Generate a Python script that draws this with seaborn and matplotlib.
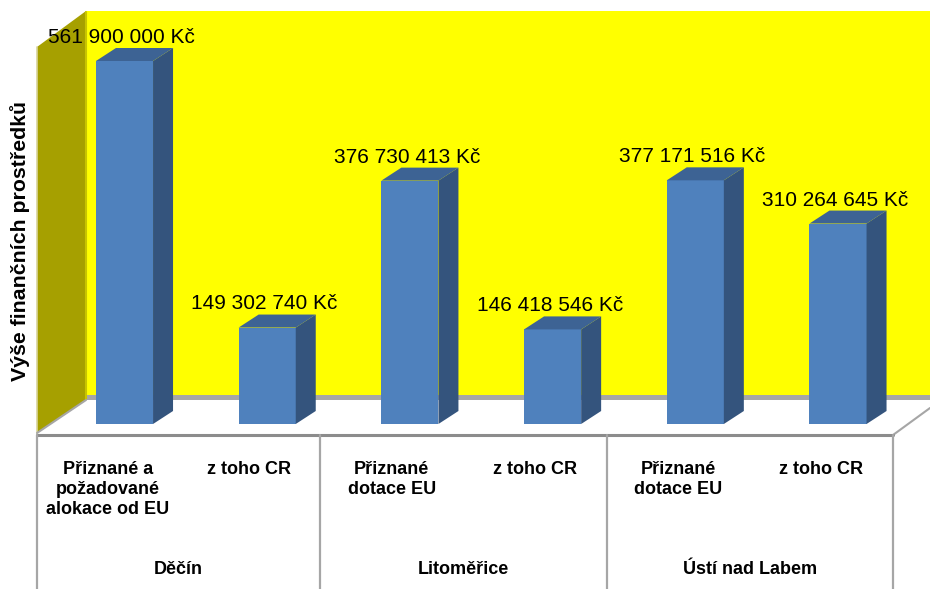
import matplotlib
matplotlib.use("Agg")
import matplotlib.pyplot as plt
import seaborn as sns
from matplotlib.patches import Polygon

# data
groups = ["Děčín", "Litoměřice", "Ústí nad Labem"]
sub_labels = ["Přiznané a\npožadované\nalokace od EU", "z toho CR",
              "Přiznané\ndotace EU", "z toho CR",
              "Přiznané\ndotace EU", "z toho CR"]
values = [561900000, 149302740, 376730413, 146418546, 377171516, 310264645]
axis_title = "Výše finančních prostředků"

sns.set_style("white")
plt.rcParams['font.family'] = ['Liberation Sans', 'DejaVu Sans']
plt.rcParams['text.color'] = 'black'

W, H = 930, 589
fig = plt.figure(figsize=(W / 100, H / 100), dpi=100)

# background: walls, floor and the category table, in pixel coordinates
bg = fig.add_axes([0, 0, 1, 1])
bg.set_xlim(0, W)
bg.set_ylim(H, 0)
bg.axis("off")

bg.add_patch(Polygon([(86, 11), (930, 11), (930, 396), (86, 396)], closed=True,
                     facecolor="#FFFF00", edgecolor="none"))
bg.add_patch(Polygon([(86, 395), (930, 395), (930, 400), (86, 400)], closed=True,
                     facecolor="#A6A6A6", edgecolor="none"))
bg.add_patch(Polygon([(37, 47), (86, 11), (86, 400), (37, 433)], closed=True,
                     facecolor="#A6A000", edgecolor="none"))
bg.plot([37, 37], [47, 433], color="#D8D49A", lw=1.2)
bg.plot([85.5, 85.5], [12, 399], color="#C8C400", lw=1.5)
bg.plot([37, 86], [433, 400], color="#A6A6A6", lw=1.5)
bg.plot([893, 930], [435, 408], color="#A6A6A6", lw=1.5)

# table
cols = [37, 320, 607, 893]
bg.plot([37, 893], [435, 435], color="#8C8C8C", lw=2.2)
for c in cols:
    bg.plot([c, c], [435, H], color="#A6A6A6", lw=1.6)

for g in range(len(groups)):
    left, right = cols[g], cols[g + 1]
    half = (right - left) / 2
    bg.text((left + right) / 2, 570, groups[g], ha="center", va="center",
            fontsize=13, fontweight="bold")
    for k in range(2):
        cx = left + half * k + half / 2
        bg.text(cx, 461, sub_labels[g * 2 + k], ha="center", va="top",
                fontsize=13, fontweight="bold", linespacing=1.22)

bg.text(20, 241, axis_title, rotation=90, ha="center", va="center",
        fontsize=15.3, fontweight="bold")

# bars
x0, step = 124.5, 142.7        # pixel centre of first bar front, spacing
y_zero, px_per_val = 424, 363 / 561900000
ax = fig.add_axes([0, 0, 1, 1])
ax.patch.set_alpha(0)
sns.barplot(x=list(range(len(values))), y=values, color="#4F81BD",
            saturation=1, width=0.4, ax=ax, edgecolor="none")
ax.set_xlim(-x0 / step, (W - x0) / step)
ax.set_ylim(-(H - y_zero) / px_per_val, y_zero / px_per_val)
ax.axis("off")

dx = 20 / step
dy = 13 / px_per_val
for p, v in zip(ax.patches, values):
    x, w, h = p.get_x(), p.get_width(), p.get_height()
    ax.add_patch(Polygon([(x + w, 0), (x + w + dx, dy), (x + w + dx, h + dy), (x + w, h)],
                         closed=True, facecolor="#34547D", edgecolor="none"))
    ax.add_patch(Polygon([(x, h), (x + dx, h + dy), (x + w + dx, h + dy), (x + w, h)],
                         closed=True, facecolor="#3D6394", edgecolor="none"))
    label = f"{v:,}".replace(",", " ") + " Kč"
    ax.annotate(label, (x + w / 2, h), xytext=(-2, 13), textcoords="offset points",
                ha="center", va="baseline", fontsize=15, color="black")

fig.savefig("out.png", dpi=100)
